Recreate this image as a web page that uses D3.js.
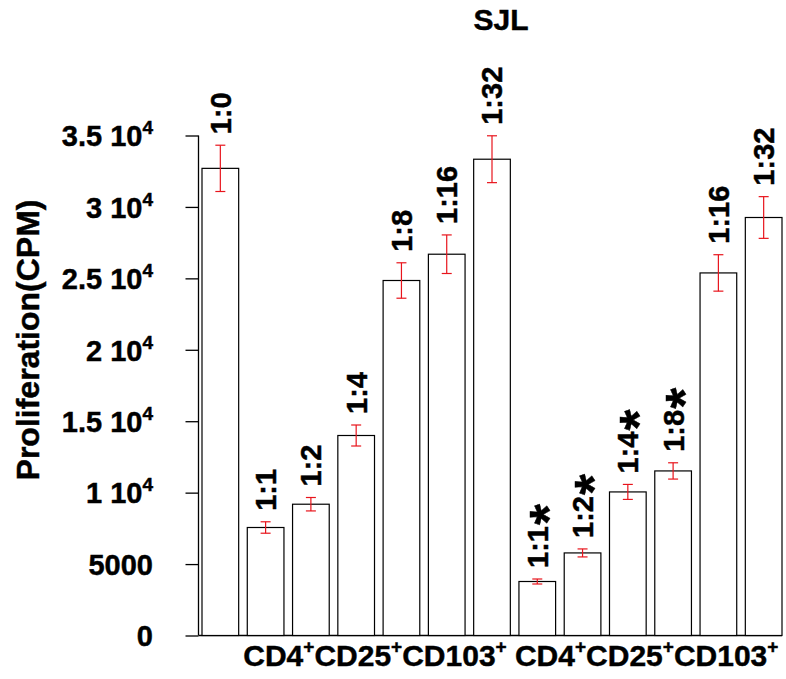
<!DOCTYPE html>
<html>
<head>
<meta charset="utf-8">
<script src="https://cdn.jsdelivr.net/npm/d3@7"></script>
<style>
  html, body { margin: 0; padding: 0; background: #fff; }
  svg { display: block; }
  text { font-family: "Liberation Sans", Arial, sans-serif; font-weight: bold; fill: #000;
         stroke: #000; stroke-width: 0.45px; }
</style>
</head>
<body>
<svg id="chart" width="786" height="679"></svg>
<script>
// Co-culture ratios (responder : suppressor) for each bar
const ratios = ["1:0", "1:1", "1:2", "1:4", "1:8", "1:16", "1:32",
                "1:1", "1:2", "1:4", "1:8", "1:16", "1:32"];
// significance markers
const starred = [false, false, false, false, false, false, false,
                 true, true, true, true, false, false];
// mean proliferation (CPM)
const values = [32700, 7560, 9190, 14000, 24850, 26690, 33340,
                3780, 5780, 10050, 11520, 25380, 29260];
// standard error (CPM)
const errors = [1620, 400, 470, 735, 1240, 1350, 1640,
                175, 280, 525, 570, 1275, 1460];
// y tick values and their labels (mantissa, exponent)
const yTicks = [0, 5000, 10000, 15000, 20000, 25000, 30000, 35000];
const yTickLabels = [["0", ""], ["5000", ""], ["1 10", "4"], ["1.5 10", "4"],
                     ["2 10", "4"], ["2.5 10", "4"], ["3 10", "4"], ["3.5 10", "4"]];
// group labels under the two bar groups: first bar of each group
const groupStart = [1, 7];
const groupLabel = [["CD4", "+"], ["CD25", "+"], ["CD103", "+"]];
const title = "SJL";
const yTitle = "Proliferation(CPM)";

const svg = d3.select("#chart");
const FS = 29;

const y = d3.scaleLinear().domain([0, 35000]).range([635.5, 135.5]);
const x = d3.scaleBand().domain(d3.range(values.length)).range([202, 782]).paddingInner(0.19);
const axisX = 198.5;

// title
svg.append("text").attr("x", 501).attr("y", 30).attr("text-anchor", "middle")
  .style("font-size", "30px").text(title);

// y-axis title
svg.append("text")
  .attr("transform", `translate(27,340) rotate(-90)`)
  .attr("text-anchor", "middle").attr("dy", "0.36em")
  .style("font-size", "32px").text(yTitle);

// y axis (drawn by d3, then restyled)
const yAxis = d3.axisLeft(y).tickValues(yTicks).tickSize(13).tickFormat("");
const ya = svg.append("g").attr("transform", `translate(${axisX},0)`).call(yAxis);
ya.select(".domain").attr("d", `M0,${y(35000)}V${y(0)}`).attr("stroke", "#000").attr("stroke-width", 1.3);
ya.selectAll(".tick line").attr("stroke", "#000").attr("stroke-width", 1.3);

// tick labels with superscripted exponents
yTicks.forEach((v, i) => {
  const t = svg.append("text").attr("x", 153).attr("y", y(v)).attr("dy", "0.37em")
    .attr("text-anchor", "end").style("font-size", FS + "px");
  t.append("tspan").text(yTickLabels[i][0]);
  if (yTickLabels[i][1]) {
    t.append("tspan").attr("dy", -12).style("font-size", "19px").text(yTickLabels[i][1]);
  }
});

// baseline along the bottom of the bars
svg.append("line").attr("x1", axisX).attr("x2", x(values.length - 1) + x.bandwidth())
  .attr("y1", y(0)).attr("y2", y(0)).attr("stroke", "#000").attr("stroke-width", 1.3);

// bars
svg.append("g").selectAll("rect").data(values).join("rect")
  .attr("x", (d, i) => x(i)).attr("width", x.bandwidth())
  .attr("y", d => y(d)).attr("height", d => y(0) - y(d))
  .attr("fill", "#fff").attr("stroke", "#000").attr("stroke-width", 1.2);

// error bars
const eb = svg.append("g").attr("stroke", "#e8141c").attr("stroke-width", 1.2);
values.forEach((v, i) => {
  const cx = x(i) + x.bandwidth() / 2;
  const top = y(v + errors[i]), bot = y(v - errors[i]);
  eb.append("line").attr("x1", cx).attr("x2", cx).attr("y1", top).attr("y2", bot);
  eb.append("line").attr("x1", cx - 5).attr("x2", cx + 5).attr("y1", top).attr("y2", top);
  eb.append("line").attr("x1", cx - 5).attr("x2", cx + 5).attr("y1", bot).attr("y2", bot);
});

// ratio labels, rotated, above the error bars
values.forEach((v, i) => {
  const cx = x(i) + x.bandwidth() / 2;
  const start = y(v + errors[i]) - 11;
  const t = svg.append("text")
    .attr("transform", `translate(${cx},${start}) rotate(-90)`)
    .attr("dy", "0.36em").style("font-size", FS + "px");
  t.append("tspan").text(ratios[i]);
  if (starred[i]) {
    t.append("tspan").attr("dy", 19).attr("dx", 1).style("font-size", "54px").text("*");
  }
});

// group labels with superscript plus signs
groupStart.forEach(a => {
  const t = svg.append("text").attr("x", x(a) - 4).attr("y", 666).style("font-size", "30px");
  groupLabel.forEach(([base, sup], k) => {
    t.append("tspan").attr("dy", k === 0 ? 0 : 13).text(base);
    t.append("tspan").attr("dy", -13).style("font-size", "19px").text(sup);
  });
});
</script>
</body>
</html>
